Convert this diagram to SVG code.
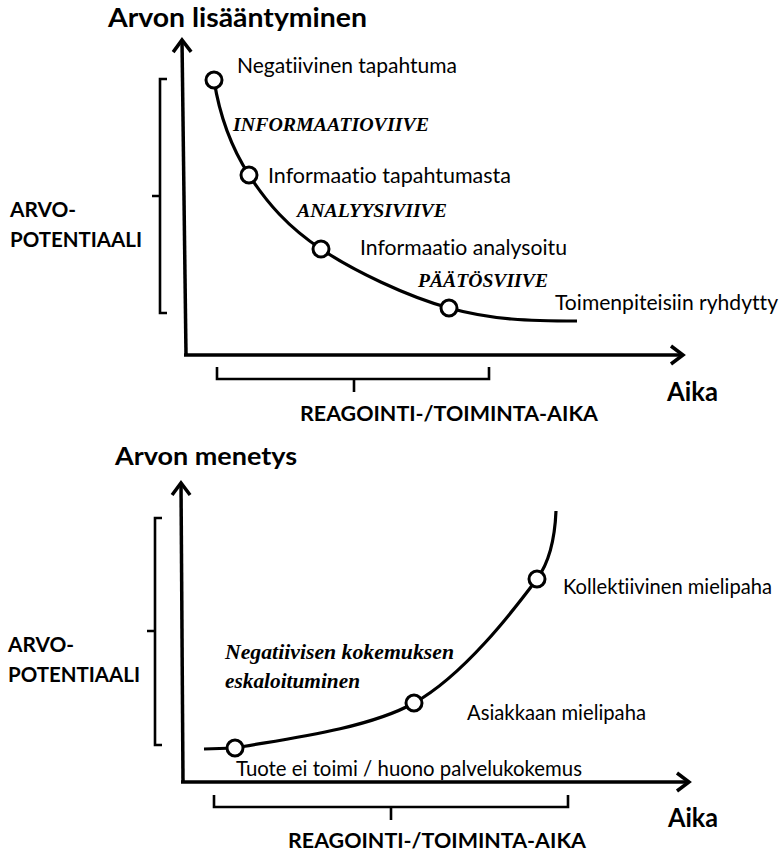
<svg xmlns="http://www.w3.org/2000/svg" width="784" height="851" viewBox="0 0 784 851">
<style>
.ax{fill:none;stroke:#000;stroke-width:3.5}
.br{fill:none;stroke:#000;stroke-width:2.6}
.cv{fill:none;stroke:#000;stroke-width:3.2}
.pt{fill:#fff;stroke:#000;stroke-width:3}
text{font-variant-ligatures:none}
.t{font-family:Lato,"Open Sans","Liberation Sans",sans-serif;font-size:21px;fill:#000}
.b{font-family:Lato,"Open Sans","Liberation Sans",sans-serif;font-weight:bold;fill:#000}
.s{font-family:"Liberation Serif","DejaVu Serif",serif;font-weight:bold;font-style:italic;fill:#000}
</style>
<defs>
<marker id="arr" viewBox="-14 -12 18 24" refX="0" refY="0" markerWidth="18" markerHeight="24" orient="auto" markerUnits="userSpaceOnUse">
<path d="M-12,-9 L0,0 L-12,9" fill="none" stroke="#000" stroke-width="3.5"/>
</marker>
</defs>
<rect width="784" height="851" fill="#fff"/>

<g id="chart-top">
<text class="b" x="108" y="27" font-size="26" textLength="259" lengthAdjust="spacingAndGlyphs">Arvon lisääntyminen</text>
<g id="axes-top">
<line class="ax" x1="186" y1="355" x2="182" y2="40" marker-end="url(#arr)"/>
<line class="ax" x1="184" y1="355" x2="683" y2="355" marker-end="url(#arr)"/>
</g>
<g id="bracket-value-top">
<path class="br" d="M167,79 H160 V313 H167 M160,196 H152"/>
<text class="b" x="10" y="217" font-size="20" textLength="66" lengthAdjust="spacingAndGlyphs">ARVO-</text>
<text class="b" x="10" y="247" font-size="20" textLength="132" lengthAdjust="spacingAndGlyphs">POTENTIAALI</text>
</g>
<g id="bracket-time-top">
<path class="br" d="M217,367 V379 H489 V367 M354,379 V392"/>
<text class="b" x="300" y="421" font-size="21" textLength="298" lengthAdjust="spacingAndGlyphs">REAGOINTI-/TOIMINTA-AIKA</text>
<text class="b" x="667" y="401" font-size="26" textLength="51" lengthAdjust="spacingAndGlyphs">Aika</text>
</g>
<g id="curve-top">
<path class="cv" d="M214,80 C219,112 231,147 249,175 C267,203 288,227 321,249 C354,271 406,296 449,308 C492,320 530,321 577,321"/>
</g>
<g id="p-negatiivinen"><circle class="pt" cx="214" cy="80" r="8"/><text class="t" x="237" y="73" textLength="220" lengthAdjust="spacingAndGlyphs">Negatiivinen tapahtuma</text></g>
<g id="l-informaatioviive"><text class="s" x="233" y="131" font-size="19" textLength="196" lengthAdjust="spacingAndGlyphs">INFORMAATIOVIIVE</text></g>
<g id="p-informaatio-tapahtumasta"><circle class="pt" cx="249" cy="175" r="8"/><text class="t" x="268" y="183" textLength="243" lengthAdjust="spacingAndGlyphs">Informaatio tapahtumasta</text></g>
<g id="l-analyysiviive"><text class="s" x="297" y="217" font-size="19" textLength="150" lengthAdjust="spacingAndGlyphs">ANALYYSIVIIVE</text></g>
<g id="p-informaatio-analysoitu"><circle class="pt" cx="321" cy="249" r="8"/><text class="t" x="360" y="255" textLength="207" lengthAdjust="spacingAndGlyphs">Informaatio analysoitu</text></g>
<g id="l-paatosviive"><text class="s" x="418" y="287" font-size="19" textLength="130" lengthAdjust="spacingAndGlyphs">PÄÄTÖSVIIVE</text></g>
<g id="p-toimenpiteisiin"><circle class="pt" cx="449" cy="308" r="8"/><text class="t" x="555" y="310" font-size="20" textLength="223" lengthAdjust="spacingAndGlyphs">Toimenpiteisiin ryhdytty</text></g>
</g>

<g id="chart-bottom">
<text class="b" x="115" y="465" font-size="25" textLength="182" lengthAdjust="spacingAndGlyphs">Arvon menetys</text>
<g id="axes-bottom">
<line class="ax" x1="183" y1="782" x2="181" y2="483" marker-end="url(#arr)"/>
<line class="ax" x1="181" y1="782" x2="689" y2="782" marker-end="url(#arr)"/>
</g>
<g id="bracket-value-bottom">
<path class="br" d="M162,518 H155 V745 H162 M155,631 H147"/>
<text class="b" x="8" y="652" font-size="20" textLength="66" lengthAdjust="spacingAndGlyphs">ARVO-</text>
<text class="b" x="8" y="682" font-size="20" textLength="132" lengthAdjust="spacingAndGlyphs">POTENTIAALI</text>
</g>
<g id="bracket-time-bottom">
<path class="br" d="M214,795 V807 H568 V795 M391,807 V820"/>
<text class="b" x="288" y="848" font-size="21" textLength="298" lengthAdjust="spacingAndGlyphs">REAGOINTI-/TOIMINTA-AIKA</text>
<text class="b" x="668" y="827" font-size="26" textLength="50" lengthAdjust="spacingAndGlyphs">Aika</text>
</g>
<g id="curve-bottom">
<path class="cv" d="M204,749 L235,748 C270,741 364,731 414,703 C464,675 513,611 537,579 C551,560 555,535 556,511"/>
</g>
<g id="l-eskaloituminen">
<text class="s" x="225" y="659" font-size="21" textLength="229" lengthAdjust="spacingAndGlyphs">Negatiivisen kokemuksen</text>
<text class="s" x="225" y="688" font-size="21" textLength="135" lengthAdjust="spacingAndGlyphs">eskaloituminen</text>
</g>
<g id="p-tuote"><circle class="pt" cx="235" cy="748" r="8"/><text class="t" x="236" y="776" textLength="346" lengthAdjust="spacingAndGlyphs">Tuote ei toimi / huono palvelukokemus</text></g>
<g id="p-asiakkaan"><circle class="pt" cx="414" cy="703" r="8"/><text class="t" x="467" y="720" textLength="179" lengthAdjust="spacingAndGlyphs">Asiakkaan mielipaha</text></g>
<g id="p-kollektiivinen"><circle class="pt" cx="537" cy="579" r="8"/><text class="t" x="563" y="594" font-size="20" textLength="209" lengthAdjust="spacingAndGlyphs">Kollektiivinen mielipaha</text></g>
</g>
</svg>
